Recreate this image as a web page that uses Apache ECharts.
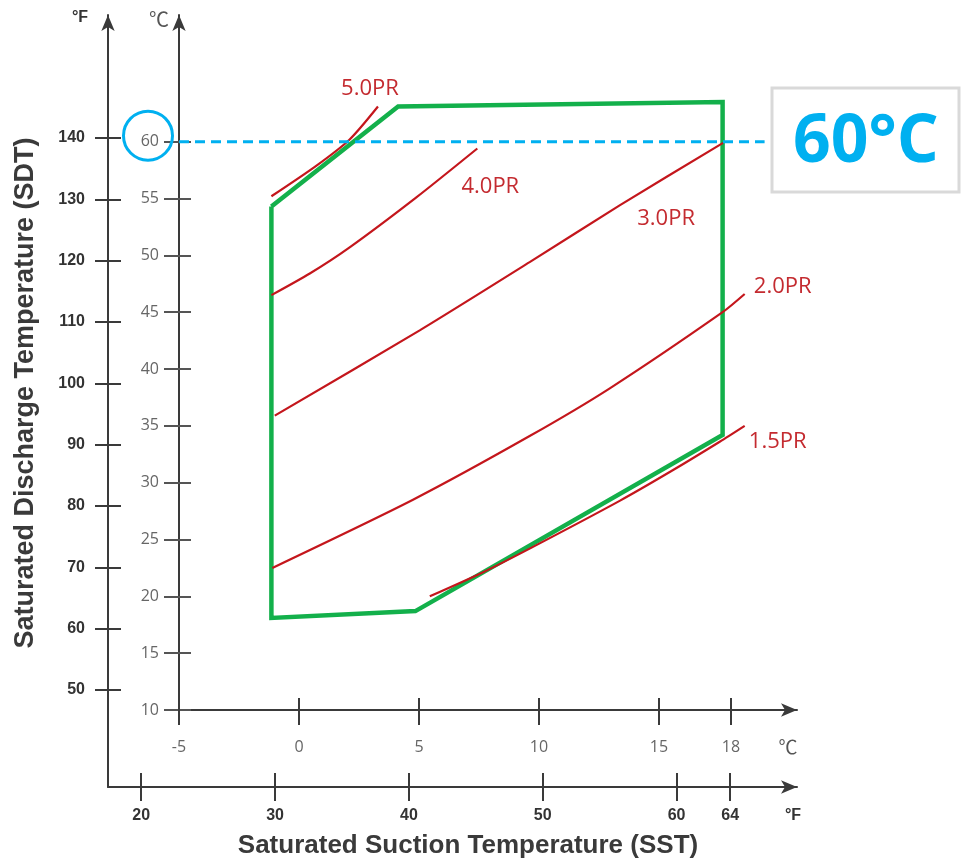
<!DOCTYPE html>
<html><head><meta charset="utf-8">
<script src="https://cdn.jsdelivr.net/npm/echarts@6/dist/echarts.min.js"></script>
<style>html,body{margin:0;padding:0;background:#fff}#c{width:961px;height:865px}</style>
</head><body><div id="c"></div>
<script>
// ---------------- data (°C unless noted) ----------------
const sstTicksC = [-5, 0, 5, 10, 15, 18];
const sstTicksF = [20, 30, 40, 50, 60, 64];
const sdtTicksC = [10, 15, 20, 25, 30, 35, 40, 45, 50, 55, 60];
const sdtTicksF = [50, 60, 70, 80, 90, 100, 110, 120, 130, 140];

// operating envelope (SST, SDT)
const envelope = [[-1.15, 54.3], [4.13, 63.1], [17.65, 63.5], [17.65, 34.2], [4.85, 18.7], [-1.15, 18.1], [-1.15, 54.3]];

// pressure-ratio curves (SST, SDT)
const pr50 = [[-1.15, 55.2], [0.73, 57.9], [2.11, 60.2], [3.29, 63.1]];
const pr40 = [[-1.15, 46.5], [0.45, 48.4], [2.11, 50.7], [4.89, 55.1], [7.43, 59.4]];
const pr30 = [[-1.01, 35.9], [5.03, 43.4], [9.61, 49.4], [13.36, 54.4], [17.67, 59.9]];
const pr20 = [[-1.11, 22.5], [4.75, 28.5], [9.61, 34.1], [12.95, 38.3], [17.65, 45.0], [18.57, 46.6]];
const pr15 = [[5.45, 20.0], [7.65, 22.1], [9.61, 24.2], [13.36, 28.4], [15.5, 31.0], [17.53, 33.6], [18.57, 35.0]];
const prNames = ['5.0PR', '4.0PR', '3.0PR', '2.0PR', '1.5PR'];

// highlighted discharge temperature
const refSDT = 60;
const refLineX = [-5, 19.4];
const refText = '60°C';

// ---------------- layout ----------------
const W = 961, H = 865;
const gridC = {left: 179, top: 15, right: 164, bottom: 155};
const gridF = {left: 108, top: 15, right: 164, bottom: 78};
const C_PX_X = 24, C_PX_Y = 11.366;
const F_PX_X = 13.385, F_PX_Y = 6.133;
const xCMin = -5, xCMax = xCMin + (W - gridC.left - gridC.right) / C_PX_X;
const yCMin = 10, yCMax = yCMin + (H - gridC.top - gridC.bottom) / C_PX_Y;
const xFMin = 17.52, xFMax = xFMin + (W - gridF.left - gridF.right) / F_PX_X;
const yFMin = 34.17, yFMax = yFMin + (H - gridF.top - gridF.bottom) / F_PX_Y;

const axisDark = '#3a3a3a';
const cLabel = {color: '#666', fontSize: 16, fontFamily: 'Open Sans'};
const fLabel = {color: '#333', fontSize: 16, fontWeight: 'bold', fontFamily: 'Liberation Sans'};

function mainAxis(grid, min, max, ticks, pos, tickLen, tickColor, label, margin) {
  return {
    type: 'value', gridIndex: grid, min: min, max: max, position: pos,
    axisLine: {show: true, onZero: false, symbol: ['none', 'arrow'], symbolSize: [10, 16],
      lineStyle: {color: axisDark, width: 2}},
    axisTick: {show: true, customValues: ticks, length: tickLen, lineStyle: {color: tickColor, width: 2}},
    axisLabel: Object.assign({show: true, customValues: ticks, margin: margin}, label),
    splitLine: {show: false}
  };
}
function twinAxis(grid, min, max, ticks, pos, tickLen, tickColor) {
  return {
    type: 'value', gridIndex: grid, min: min, max: max, position: pos,
    axisLine: {show: false, onZero: false},
    axisTick: {show: true, inside: true, customValues: ticks, length: tickLen, lineStyle: {color: tickColor, width: 2}},
    axisLabel: {show: false},
    splitLine: {show: false}
  };
}

const chart = echarts.init(document.getElementById('c'), null, {renderer: 'canvas'});

const curveColor = '#c4161c';
const curves = [pr50, pr40, pr30, pr20, pr15];
const series = [];
series.push({
  name: 'envelope', type: 'line', xAxisIndex: 0, yAxisIndex: 0, data: envelope,
  symbol: 'none', z: 3, lineStyle: {color: '#13b04b', width: 4.5, join: 'miter'}
});
curves.forEach((c, i) => series.push({
  name: prNames[i], type: 'line', xAxisIndex: 0, yAxisIndex: 0, data: c,
  symbol: 'none', smooth: 0.25, z: 4, lineStyle: {color: curveColor, width: 2.2}
}));
series.push({
  name: 'ref', type: 'line', xAxisIndex: 0, yAxisIndex: 0,
  data: [[refLineX[0], refSDT], [refLineX[1], refSDT]],
  symbol: 'none', z: 5, lineStyle: {color: '#00b0f0', width: 3, type: [10, 6]}
});

chart.setOption({
  animation: false,
  backgroundColor: '#fff',
  grid: [
    Object.assign({containLabel: false}, gridC),
    Object.assign({containLabel: false}, gridF)
  ],
  xAxis: [
    mainAxis(0, xCMin, xCMax, sstTicksC, 'bottom', 15, axisDark, cLabel, 29),
    twinAxis(0, xCMin, xCMax, sstTicksC, 'bottom', 12, axisDark),
    mainAxis(1, xFMin, xFMax, sstTicksF, 'bottom', 14, axisDark, fLabel, 21),
    twinAxis(1, xFMin, xFMax, sstTicksF, 'bottom', 14, axisDark)
  ],
  yAxis: [
    mainAxis(0, yCMin, yCMax, sdtTicksC, 'left', 15, '#555', cLabel, 20),
    twinAxis(0, yCMin, yCMax, sdtTicksC, 'left', 12, '#555'),
    mainAxis(1, yFMin, yFMax, sdtTicksF, 'left', 13, axisDark, fLabel, 23),
    twinAxis(1, yFMin, yFMax, sdtTicksF, 'left', 13, axisDark)
  ],
  series: series
});

// ---------------- annotations ----------------
const labelOffsets = [[-8, -18], [13, 38], [-57, 76], [38, -7], [33, 16]];
const graphic = [];
curves.forEach((c, i) => {
  const p = chart.convertToPixel({seriesIndex: i + 1}, c[c.length - 1]);
  graphic.push({type: 'text', x: p[0] + labelOffsets[i][0], y: p[1] + labelOffsets[i][1], z: 10,
    style: {text: prNames[i], fill: '#c42b30', fontSize: 22, fontFamily: 'Open Sans', align: 'center', verticalAlign: 'middle'}});
});
const refPx = chart.convertToPixel({xAxisIndex: 0, yAxisIndex: 0}, [xCMin, refSDT]);
graphic.push({type: 'circle', shape: {cx: refPx[0] - 31, cy: refPx[1] - 6, r: 24.5},
  style: {fill: 'none', stroke: '#00b0f0', lineWidth: 3}, z: 10});
graphic.push({type: 'rect', shape: {x: 772, y: 88, width: 187, height: 104},
  style: {fill: '#fff', stroke: '#d9d9d9', lineWidth: 3}, z: 10});
graphic.push({type: 'text', x: 866, y: 143, z: 11,
  style: {text: refText, fill: '#00b0f0', fontSize: 66, fontWeight: 'bold', fontFamily: 'Open Sans', align: 'center', verticalAlign: 'middle'}});
// unit marks
graphic.push({type: 'text', x: 80, y: 18, style: {text: '°F', fill: '#333', fontSize: 16, fontWeight: 'bold', fontFamily: 'Liberation Sans', align: 'center', verticalAlign: 'middle'}});
graphic.push({type: 'text', x: 159, y: 19, style: {text: '℃', fill: '#555', fontSize: 20, fontFamily: 'Noto Sans CJK SC', align: 'center', verticalAlign: 'middle'}});
graphic.push({type: 'text', x: 788, y: 747, style: {text: '℃', fill: '#555', fontSize: 19, fontFamily: 'Noto Sans CJK SC', align: 'center', verticalAlign: 'middle'}});
graphic.push({type: 'text', x: 793, y: 816, style: {text: '°F', fill: '#333', fontSize: 16, fontWeight: 'bold', fontFamily: 'Liberation Sans', align: 'center', verticalAlign: 'middle'}});
// axis titles
graphic.push({type: 'text', x: 468, y: 846, style: {text: 'Saturated Suction Temperature (SST)', fill: '#3a3a3a', fontSize: 26, fontWeight: 'bold', fontFamily: 'Liberation Sans', align: 'center', verticalAlign: 'middle'}});
graphic.push({type: 'text', x: 26, y: 393, rotation: Math.PI / 2, style: {text: 'Saturated Discharge Temperature (SDT)', fill: '#3a3a3a', fontSize: 27, fontWeight: 'bold', fontFamily: 'Liberation Sans', align: 'center', verticalAlign: 'middle'}});
chart.setOption({graphic: graphic});
</script></body></html>
